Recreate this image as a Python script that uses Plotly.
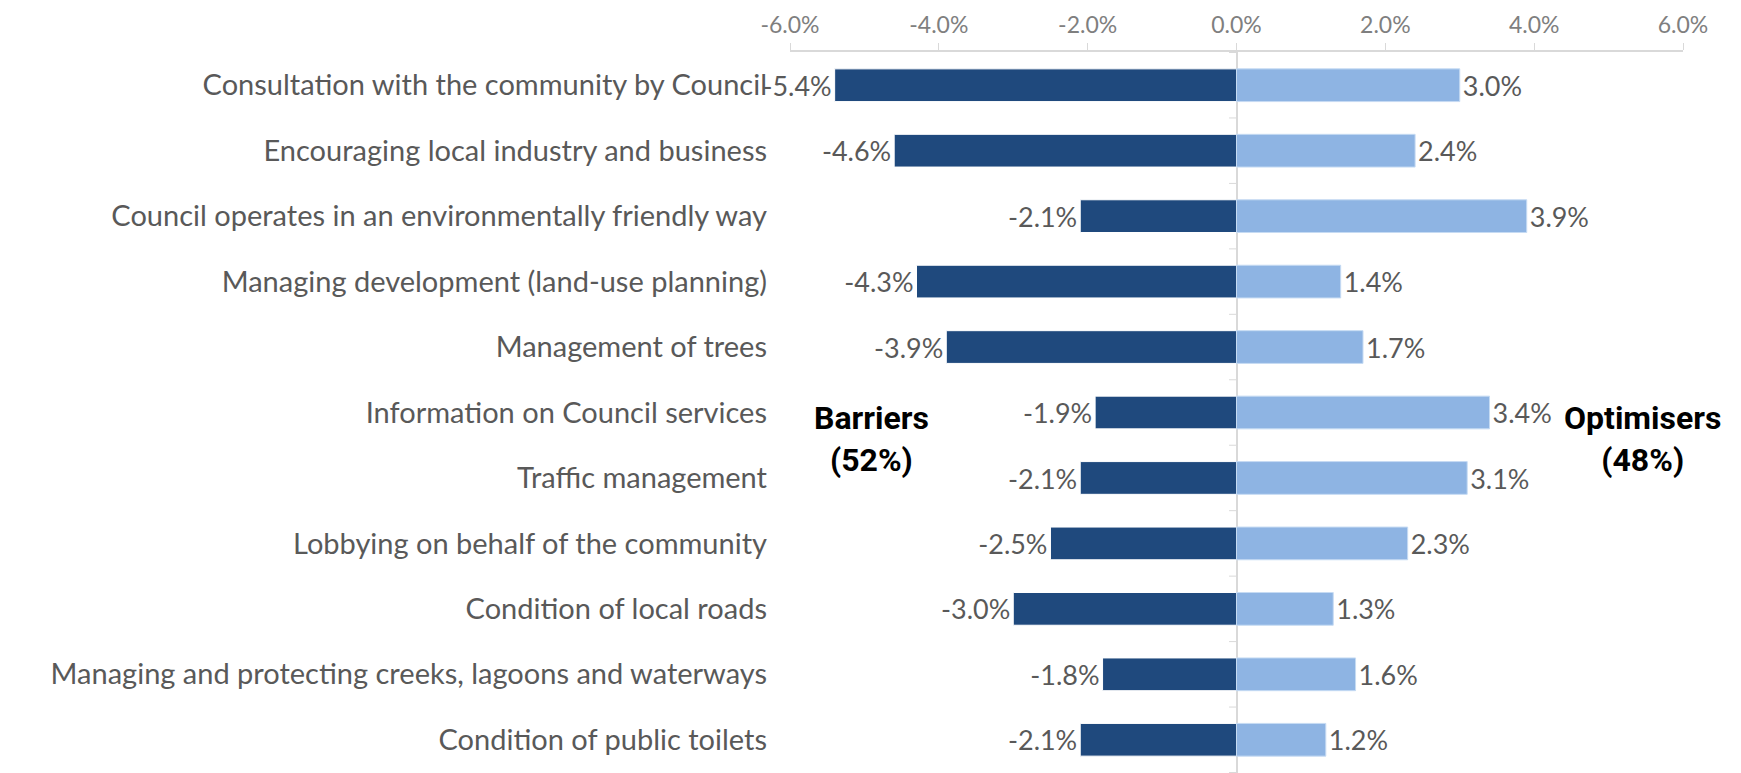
import plotly.graph_objects as go

categories = [
    "Consultation with the community by Council",
    "Encouraging local industry and business",
    "Council operates in an environmentally friendly way",
    "Managing development (land-use planning)",
    "Management of trees",
    "Information on Council services",
    "Traffic management",
    "Lobbying on behalf of the community",
    "Condition of local roads",
    "Managing and protecting creeks, lagoons and waterways",
    "Condition of public toilets",
]
barriers = [-5.4, -4.6, -2.1, -4.3, -3.9, -1.9, -2.1, -2.5, -3.0, -1.8, -2.1]
optimisers = [3.0, 2.4, 3.9, 1.4, 1.7, 3.4, 3.1, 2.3, 1.3, 1.6, 1.2]
tick_vals = [-6, -4, -2, 0, 2, 4, 6]

FONT = "Lato"
DARK = "#1f497d"
LIGHT = "#8eb4e3"
GRID = "#d9d9d9"

fig = go.Figure()
fig.add_trace(go.Bar(
    y=categories, x=barriers, orientation="h", name="Barriers",
    marker=dict(color=DARK, line=dict(color="white", width=1)),
    width=0.5, texttemplate="%{x:.1f}%", textposition="outside",
    textfont=dict(family=FONT, size=28, color="#595959"), cliponaxis=False,
))
fig.add_trace(go.Bar(
    y=categories, x=optimisers, orientation="h", name="Optimisers",
    marker=dict(color=LIGHT, line=dict(color="#c6dbf3", width=1)),
    width=0.5, texttemplate="%{x:.1f}%", textposition="outside",
    textfont=dict(family=FONT, size=28, color="#595959"), cliponaxis=False,
))

# small tick marks between categories, left of the centre line
for i in range(len(categories) + 1):
    fig.add_shape(type="line", xref="x", yref="y", x0=-0.1, x1=0,
                  y0=i - 0.5, y1=i - 0.5, line=dict(color=GRID, width=1), layer="below")

fig.add_annotation(x=-4.9, y=5.4, xref="x", yref="y", text="<b>Barriers<br>(52%)</b>",
                   showarrow=False, font=dict(family="Roboto", size=32, color="black"))
fig.add_annotation(x=5.46, y=5.4, xref="x", yref="y", text="<b>Optimisers<br>(48%)</b>",
                   showarrow=False, font=dict(family="Roboto", size=32, color="black"),
                   align="center", xanchor="center")

# the page adds an 8px body margin, so the margins are shifted to compensate
fig.update_layout(
    width=1741, height=773,
    margin=dict(l=782, r=66, t=44, b=8),
    paper_bgcolor="white", plot_bgcolor="white",
    barmode="relative", showlegend=False,
    font=dict(family=FONT, color="#595959"),
    xaxis=dict(
        side="top", range=[-6, 6], tickvals=tick_vals,
        ticktext=[f"{v:.1f}%" for v in tick_vals],
        tickfont=dict(family=FONT, size=23, color="#7f7f7f"),
        ticklabelstandoff=1, automargin=False,
        showgrid=False, showline=True, linecolor=GRID, linewidth=2,
        ticks="outside", ticklen=7, tickcolor=GRID,
        zeroline=True, zerolinecolor=GRID, zerolinewidth=2,
    ),
    yaxis=dict(
        autorange="reversed", showgrid=False, showline=False, ticks="",
        tickfont=dict(family=FONT, size=29, color="#595959"),
        ticklabelstandoff=22, automargin=False,
    ),
)

fig.write_html("out.html")
